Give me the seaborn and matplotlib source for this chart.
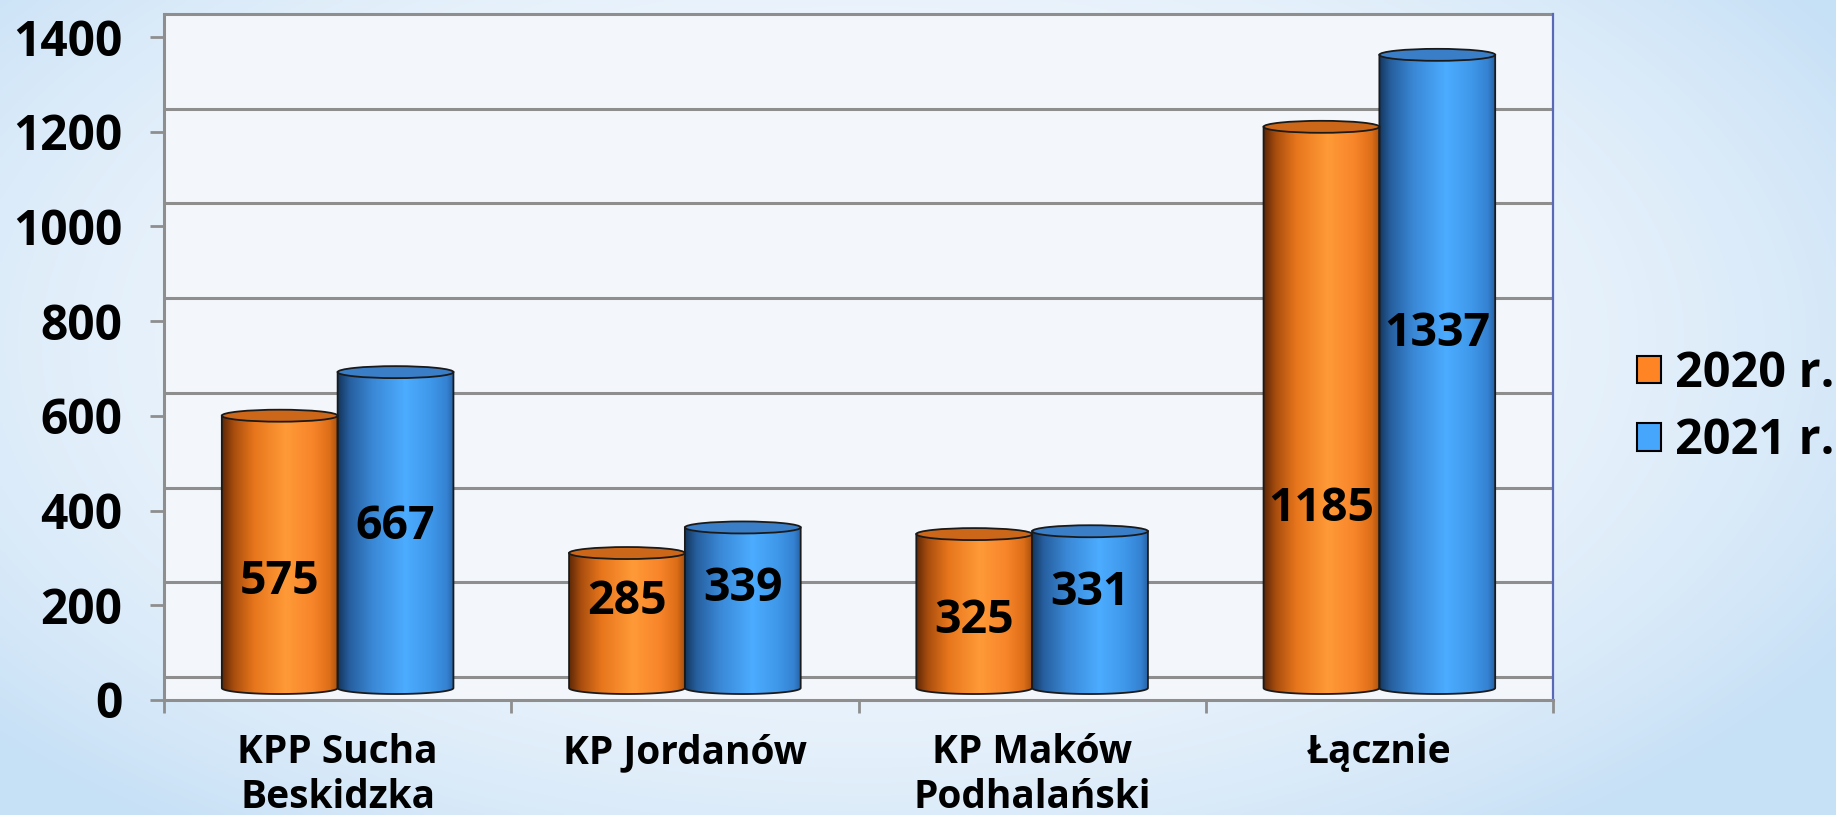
import numpy as np
import pandas as pd
import matplotlib
matplotlib.use("Agg")
import matplotlib.pyplot as plt
import seaborn as sns
from matplotlib.patches import Ellipse, PathPatch, Patch
from matplotlib.path import Path
from matplotlib.transforms import ScaledTranslation

# ---------------- data ----------------
categories = ["KPP Sucha\nBeskidzka", "KP Jordanów", "KP Maków\nPodhalański", "Łącznie"]
years = ["2020 r.", "2021 r."]
values_2020 = [575, 285, 325, 1185]
values_2021 = [667, 339, 331, 1337]
y_ticks = [0, 200, 400, 600, 800, 1000, 1200, 1400]
# where each value label sits inside its cylinder (fraction of bar height)
label_frac = {"2020 r.": [0.39, 0.64, 0.44, 0.32],
              "2021 r.": [0.51, 0.62, 0.61, 0.56]}

df = pd.DataFrame({
    "category": categories * 2,
    "year": [years[0]] * len(categories) + [years[1]] * len(categories),
    "value": values_2020 + values_2021,
})

# ---------------- style ----------------
W, H, DPI = 1836, 815, 100
sns.set_theme(style="white")
plt.rcParams["font.family"] = ["Open Sans", "DejaVu Sans"]
plt.rcParams["font.weight"] = "bold"
plt.rcParams["text.color"] = "black"
plt.rcParams["xtick.labelcolor"] = "black"
plt.rcParams["ytick.labelcolor"] = "black"

ORANGE = "#ff8424"
BLUE = "#46a6fb"
GRID = "#8e8e8e"

fig = plt.figure(figsize=(W / DPI, H / DPI), dpi=DPI)

# background gradient (light blue edges, whitish centre)
bg = fig.add_axes([0, 0, 1, 1], zorder=-10)
yy, xx = np.mgrid[0:1:300j, 0:1:600j]
d = np.clip(((xx - 0.47) / 0.62) ** 2 + ((yy - 0.42) / 0.75) ** 2, 0, 1) ** 1.3
c_in = np.array([0.955, 0.972, 0.992])
c_out = np.array([0.78, 0.88, 0.965])
img = c_in[None, None, :] * (1 - d[..., None]) + c_out[None, None, :] * d[..., None]
bg.imshow(img, extent=[0, 1, 0, 1], aspect="auto", origin="upper")
bg.axis("off")

# layout in pixels
L, R = 164, 1553
Y0, Y1400, TOP = 700, 37, 14
ax = fig.add_axes([L / W, 1 - Y0 / H, (R - L) / W, (Y0 - TOP) / H])
ax.set_facecolor("#f3f7fc")

sns.barplot(data=df, x="category", y="value", hue="year",
            palette=[ORANGE, BLUE], width=0.667, saturation=1,
            legend=False, ax=ax)

ymax = y_ticks[-1] * (Y0 - TOP) / (Y0 - Y1400)
ax.set_ylim(0, ymax)
ax.set_xlim(-0.5, len(categories) - 0.5)
ppu = (Y0 - Y1400) / y_ticks[-1]  # pixels per unit

bar_tr = ax.transData + ScaledTranslation(0, 12 / DPI, fig.dpi_scale_trans)
grid_tr = ax.get_yaxis_transform() + ScaledTranslation(0, 23 / DPI, fig.dpi_scale_trans)

# back-wall gridlines
for v in y_ticks:
    ax.plot([0, 1], [v, v], transform=grid_tr, color=GRID, lw=2.2,
            zorder=0.5, clip_on=False, solid_capstyle="butt")


def stops_to_img(stops):
    pos = np.array([s[0] for s in stops])
    cols = np.array([matplotlib.colors.to_rgb(s[1]) for s in stops])
    x = np.linspace(0, 1, 256)
    arr = np.stack([np.interp(x, pos, cols[:, k]) for k in range(3)], axis=-1)
    return arr[None, :, :]


grad = {
    "2020 r.": stops_to_img([(0.0, "#5e2806"), (0.1, "#a84d0e"), (0.28, "#e8761c"),
                             (0.55, "#ff9a38"), (0.78, "#f8852a"), (0.93, "#dd6e18"),
                             (1.0, "#a9520f")]),
    "2021 r.": stops_to_img([(0.0, "#14375e"), (0.1, "#265f9f"), (0.3, "#3a88d6"),
                             (0.58, "#4cacff"), (0.8, "#3f98ea"), (0.94, "#3582d2"),
                             (1.0, "#2763a6")]),
}
top_col = {"2020 r.": "#cc6618", "2021 r.": "#3a7ec8"}

hy = 6 / ppu  # half-height of ellipses in data units
theta = np.linspace(np.pi, 2 * np.pi, 60)

for cont, yr in zip(ax.containers, years):
    for j, bar in enumerate(cont):
        x0, w, v = bar.get_x(), bar.get_width(), bar.get_height()
        x1, xc = x0 + w, x0 + w / 2
        bar.set_visible(False)
        verts = [(x0, v), (x0, 0)]
        verts += [(xc + w / 2 * np.cos(t), hy * np.sin(t)) for t in theta]
        verts += [(x1, v), (x0, v)]
        codes = [Path.MOVETO] + [Path.LINETO] * (len(verts) - 2) + [Path.CLOSEPOLY]
        body = PathPatch(Path(verts, codes), facecolor="none", edgecolor="#1a1a1a",
                         lw=1.3, transform=bar_tr, zorder=3)
        ax.add_patch(body)
        im = ax.imshow(grad[yr], extent=[x0, x1, -hy, v], aspect="auto",
                       transform=bar_tr, zorder=2.5, interpolation="bilinear")
        im.set_clip_path(body)
        ax.add_patch(Ellipse((xc, v), w, 2 * hy, transform=bar_tr,
                             facecolor=top_col[yr], edgecolor="#1a1a1a",
                             lw=1.3, zorder=4))
        ax.text(xc, label_frac[yr][j] * v, f"{int(v)}", transform=bar_tr,
                ha="center", va="center", fontsize=33.5, fontweight="bold",
                color="black", zorder=5)

ax.set_ylim(0, ymax)
ax.set_xlim(-0.5, len(categories) - 0.5)

# spines
for s in ["left", "bottom"]:
    ax.spines[s].set_visible(True)
    ax.spines[s].set_color(GRID)
    ax.spines[s].set_linewidth(2.2)
ax.spines["top"].set_visible(False)
ax.spines["right"].set_color("#5a68b8")
ax.spines["right"].set_linewidth(1.6)

# ticks
ax.set_yticks(y_ticks)
ax.set_yticklabels([str(t) for t in y_ticks])
ax.tick_params(axis="y", which="major", left=True, length=10, width=2,
               color=GRID, labelsize=34.5, pad=20, labelcolor="black")
ax.set_xticks(range(len(categories)))
ax.set_xticklabels(categories)
ax.set_xticks(np.arange(-0.5, len(categories)), minor=True)
ax.tick_params(axis="x", which="major", bottom=False, length=0,
               labelsize=28, pad=24, labelcolor="black")
ax.tick_params(axis="x", which="minor", bottom=True, length=9, width=2,
               color=GRID)
for lab in ax.get_xticklabels() + ax.get_yticklabels():
    lab.set_fontweight("bold")
ax.set_xlabel("")
ax.set_ylabel("")
ax.grid(False)

# legend
handles = [Patch(facecolor=ORANGE, edgecolor="black", lw=1.5),
           Patch(facecolor=BLUE, edgecolor="black", lw=1.5)]
leg = fig.legend(handles, years, loc="center left",
                 bbox_to_anchor=(1637 / W, 1 - 408 / H), frameon=False,
                 prop={"size": 35, "weight": "bold"}, handlelength=0.5,
                 handleheight=0.5, handletextpad=0.28, labelspacing=0.38,
                 borderpad=0, borderaxespad=0)
for t in leg.get_texts():
    t.set_color("black")

fig.savefig("out.png", dpi=DPI)
